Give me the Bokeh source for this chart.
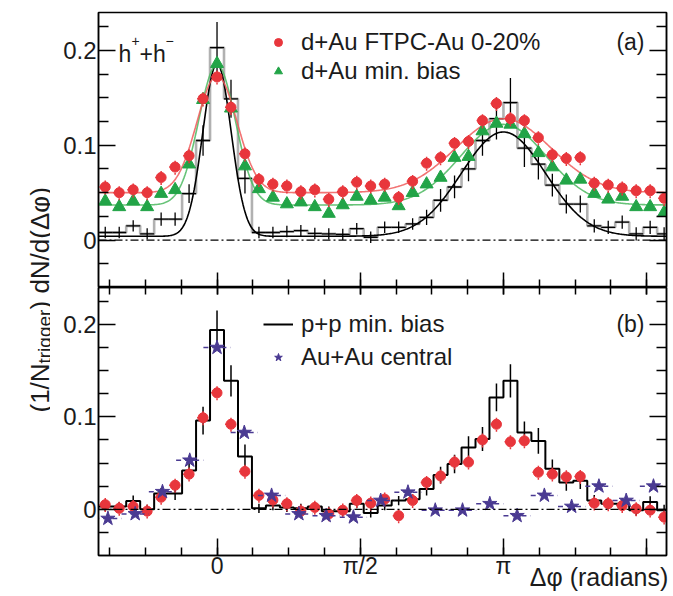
import math
import numpy as np
from bokeh.plotting import figure
from bokeh.layouts import row, column
from bokeh.models import (FixedTicker, LinearAxis, Range1d, Span, Label,
                          Legend, LegendItem)
from bokeh.embed import file_html
from bokeh.resources import INLINE

PI = math.pi

# ---------------------------------------------------------------- binning
# fine bins (d+Au, p+p) and coarse bins (Au+Au), centred on dphi = 0
fine_bin_index = list(range(-8, 33))
coarse_bin_index = list(range(-4, 17))
FINE_W = 2 * PI / 41
COARSE_W = 2 * PI / 21

# ---------------------------------------------------------------- panel (a)
dau_central_a = [0.056, 0.050, 0.053, 0.050, 0.066, 0.077, 0.089, 0.149, 0.172,
                 0.140, 0.091, 0.064, 0.059, 0.057, 0.051, 0.053, 0.043, 0.051, 0.061,
                 0.057, 0.059, 0.045, 0.062, 0.081, 0.087, 0.102, 0.104, 0.126, 0.144,
                 0.128, 0.126, 0.108, 0.090, 0.086, 0.087, 0.060, 0.058, 0.055, 0.052,
                 0.052, 0.044]
dau_minbias_a = [0.041, 0.035, 0.041, 0.035, 0.049, 0.053, 0.080, 0.148, 0.186,
                 0.139, 0.078, 0.054, 0.045, 0.038, 0.040, 0.035, 0.028, 0.037, 0.046,
                 0.042, 0.045, 0.036, 0.050, 0.059, 0.066, 0.087, 0.088, 0.115, 0.123,
                 0.122, 0.112, 0.092, 0.077, 0.063, 0.064, 0.049, 0.043, 0.046, 0.035,
                 0.035, 0.029]
pp_a = [0.008, 0.008, 0.015, 0.0065, 0.022, 0.022, 0.049, 0.105, 0.203,
        0.149, 0.065, 0.008, 0.008, 0.009, 0.010, 0.007, 0.0065, 0.006, 0.012,
        0.003, 0.0135, 0.0135, 0.017, 0.024, 0.042, 0.056, 0.075, 0.105, 0.128,
        0.145, 0.097, 0.080, 0.058, 0.038, 0.038, 0.015, 0.0135, 0.019, 0.0065,
        0.0135, 0.0065]
pp_a_err = [0.006, 0.006, 0.006, 0.006, 0.007, 0.007, 0.010, 0.016, 0.027,
            0.020, 0.016, 0.006, 0.006, 0.006, 0.006, 0.006, 0.006, 0.006, 0.006,
            0.006, 0.006, 0.006, 0.006, 0.008, 0.012, 0.012, 0.013, 0.016, 0.022,
            0.026, 0.020, 0.016, 0.012, 0.010, 0.009, 0.007, 0.007, 0.007, 0.007,
            0.007, 0.007]
DAU_YERR = 0.008

# ---------------------------------------------------------------- panel (b)
pp_b = [0.003, 0.003, 0.009, 0.000, 0.017, 0.017, 0.042, 0.096, 0.194,
        0.139, 0.057, 0.001, 0.004, 0.002, 0.001, 0.003, -0.002, -0.002, 0.006,
        -0.004, 0.004, 0.0095, 0.011, 0.022, 0.037, 0.049, 0.067, 0.076, 0.121,
        0.139, 0.083, 0.074, 0.044, 0.029, 0.031, 0.0095, 0.006, 0.006, -0.001,
        0.008, -0.001]
pp_b_err = [0.005, 0.005, 0.006, 0.005, 0.006, 0.007, 0.009, 0.015, 0.021,
            0.017, 0.013, 0.005, 0.005, 0.005, 0.005, 0.005, 0.005, 0.005, 0.005,
            0.005, 0.005, 0.005, 0.005, 0.007, 0.009, 0.010, 0.012, 0.013, 0.015,
            0.018, 0.012, 0.014, 0.010, 0.009, 0.009, 0.006, 0.006, 0.006, 0.006,
            0.006, 0.006]
dau_central_b = [0.005, 0.001, 0.003, -0.002, 0.013, 0.026, 0.038, 0.099, 0.126,
                 0.092, 0.041, 0.015, 0.010, 0.006, -0.002, 0.002, -0.005, -0.001, 0.0095,
                 0.0066, 0.011, -0.007, 0.0095, 0.029, 0.036, 0.051, 0.051, 0.075, 0.092,
                 0.073, 0.074, 0.040, 0.038, 0.035, 0.0355, 0.0066, 0.006, 0.004, 0.0005,
                 -0.001, -0.0085]
auau_central_b = [-0.010, -0.005, 0.019, 0.053, 0.175, 0.083, 0.015, -0.005, -0.007,
                  -0.0085, 0.0095, 0.0185, -0.001, -0.001, 0.006, -0.007, 0.015, 0.003,
                  0.025, 0.0095, 0.025]

# Gaussian fits: pedestal, near amplitude, near sigma, away amplitude, away sigma
fit_dau_central = [0.050, 0.123, 0.22, 0.078, 0.52]
fit_dau_minbias = [0.037, 0.148, 0.20, 0.085, 0.47]
fit_pp = [0.004, 0.182, 0.155, 0.110, 0.46]

x_ticks = [0, PI / 2, PI, 3 * PI / 2]
x_tick_labels = ["0", "\u03c0/2", "\u03c0", ""]
y_ticks = [0.0, 0.1, 0.2]
y_tick_labels = ["0", "0.1", "0.2"]
x_title = "\u0394\u03c6 (radians)"
X_TITLE_POS = 4.19   # centre of the axis title, in radians

# ---------------------------------------------------------------- helpers
FONT = "Liberation Sans"
INK = "#1b1b1b"
RED = "#e8363c"
RED_LINE = "#f05a5a"
GREEN = "#22a447"
GREEN_LINE = "#4cb860"
PURPLE = "#4a3a92"

fine_x = [k * FINE_W for k in fine_bin_index]
coarse_x = [k * COARSE_W for k in coarse_bin_index]


def fit_curve(params, x):
    ped, a1, s1, a2, s2 = params
    y = np.full_like(x, ped)
    for shift in (-2 * PI, 0.0, 2 * PI):
        y += a1 * np.exp(-(x - shift) ** 2 / (2 * s1 ** 2))
        y += a2 * np.exp(-(x - PI - shift) ** 2 / (2 * s2 ** 2))
    return y


def step_outline(centers, values, width):
    xs, ys = [], []
    for c, v in zip(centers, values):
        xs += [c - width / 2, c + width / 2]
        ys += [v, v]
    return xs, ys


def hide_labels(ax):
    ax.major_label_overrides = {t: "" for t in ax.ticker.ticks}
    ax.major_label_text_color = None
    ax.major_label_text_font_size = "1px"
    ax.major_label_standoff = 0


def style_axis(ax, major_in, minor_in, overrides=None, size="24px", standoff=0):
    ax.major_tick_in = major_in
    ax.major_tick_out = 0
    ax.minor_tick_in = minor_in
    ax.minor_tick_out = 0
    ax.axis_line_color = "black"
    ax.axis_line_width = 1.5
    ax.major_tick_line_color = "black"
    ax.minor_tick_line_color = "black"
    ax.major_tick_line_width = 1.5
    ax.minor_tick_line_width = 1.5
    ax.major_label_standoff = standoff
    if overrides is not None:
        ax.major_label_text_font = FONT
        ax.major_label_text_font_size = size
        ax.major_label_text_color = INK
        ax.major_label_overrides = overrides
    else:
        hide_labels(ax)


x_range = Range1d(-1.30, 4.93)
x_ticker = FixedTicker(ticks=x_ticks, minor_ticks=[k * PI / 8 for k in range(-3, 13)])
y_ticker = FixedTicker(ticks=y_ticks,
                       minor_ticks=[-0.025, 0.025, 0.05, 0.075, 0.125, 0.15, 0.175, 0.225])
x_over = {t: s for t, s in zip(x_ticks, x_tick_labels)}
y_over = {t: s for t, s in zip(y_ticks, y_tick_labels)}
curve_x = np.linspace(-1.30, 4.93, 500)


def make_panel(height, border_top, border_bottom):
    p = figure(width=623, height=height, x_range=x_range, y_range=Range1d(-0.05, 0.24),
               output_backend="svg", toolbar_location=None,
               min_border_left=48, min_border_right=7,
               min_border_top=border_top, min_border_bottom=border_bottom)
    p.xgrid.visible = False
    p.ygrid.visible = False
    p.outline_line_color = "black"
    p.outline_line_width = 1.5
    p.background_fill_color = "white"
    p.border_fill_color = "white"
    p.xaxis.ticker = x_ticker
    p.yaxis.ticker = y_ticker
    p.add_layout(Span(location=0, dimension="width", line_color="black",
                      line_width=1.2, line_dash="8 3 2 3"))
    return p


def legend_box(items, loc, spacing):
    return Legend(items=items, location=loc, glyph_width=30, glyph_height=20,
                  label_height=20, spacing=spacing, padding=0, margin=0,
                  label_standoff=8, border_line_color=None, background_fill_alpha=0,
                  label_text_font=FONT, label_text_font_size="24px",
                  label_text_color=INK)


# ================================================================ panel (a)
pa = make_panel(287, 12, 0)
style_axis(pa.xaxis[0], 15, 8)
style_axis(pa.yaxis[0], 17, 10, y_over, "24px", 2)
ra = LinearAxis(ticker=y_ticker)
style_axis(ra, 17, 10)
pa.add_layout(ra, "right")

# p+p reference: grey histogram with black error crosses
hx, hy = step_outline(fine_x, pp_a, FINE_W)
pa.line(hx, hy, line_color="#a8a8a8", line_width=2.6, line_alpha=0.9)
pa.segment(x0=[x - FINE_W / 2 for x in fine_x], x1=[x + FINE_W / 2 for x in fine_x],
           y0=pp_a, y1=pp_a, line_color="black", line_width=1.3)
pa.segment(x0=fine_x, x1=fine_x, y0=[v - e for v, e in zip(pp_a, pp_a_err)],
           y1=[v + e for v, e in zip(pp_a, pp_a_err)], line_color="black", line_width=1.3)

pa.line(curve_x, fit_curve(fit_pp, curve_x), line_color="black", line_width=1.6)
pa.line(curve_x, fit_curve(fit_dau_minbias, curve_x), line_color=GREEN_LINE,
        line_width=1.6, line_alpha=0.85)
pa.line(curve_x, fit_curve(fit_dau_central, curve_x), line_color=RED_LINE,
        line_width=1.6, line_alpha=0.85)

# d+Au minimum bias
r_green = pa.scatter(fine_x, dau_minbias_a, marker="triangle", size=13,
                     fill_color=GREEN, line_color=GREEN)

# d+Au central with dotted error crosses
pa.segment(x0=[x - 0.065 for x in fine_x], x1=[x + 0.065 for x in fine_x],
           y0=dau_central_a, y1=dau_central_a, line_color=RED, line_width=1.5,
           line_dash="2 2")
pa.segment(x0=fine_x, x1=fine_x, y0=[v - DAU_YERR for v in dau_central_a],
           y1=[v + DAU_YERR for v in dau_central_a], line_color=RED, line_width=1.5,
           line_dash="2 2")
r_red = pa.scatter(fine_x, dau_central_a, marker="circle", size=10,
                   fill_color=RED, line_color=RED)

pa.add_layout(legend_box([LegendItem(label="d+Au FTPC-Au 0-20%", renderers=[r_red]),
                          LegendItem(label="d+Au min. bias", renderers=[r_green])],
                         (165, 202), 1))

pa.add_layout(Label(x=546, y=246, x_units="screen", y_units="screen", text="(a)",
                    text_font=FONT, text_font_size="23px", text_color=INK,
                    text_align="right", text_baseline="middle"))
# h+ + h- tag
for txt, xx, yy, fs in [("h", 20, 234, "23px"), ("+", 33, 247, "14px"),
                        ("+h", 41, 234, "23px"), ("\u2212", 67, 247, "14px")]:
    pa.add_layout(Label(x=xx, y=yy, x_units="screen", y_units="screen", text=txt,
                        text_font=FONT, text_font_size=fs, text_color=INK,
                        text_align="left", text_baseline="alphabetic"))

# ================================================================ panel (b)
pb = make_panel(309, 0, 41)
xa = pb.xaxis[0]
style_axis(xa, 17, 8, x_over, "23px", -3)
style_axis(pb.yaxis[0], 17, 10, y_over, "24px", 2)
rb = LinearAxis(ticker=y_ticker)
style_axis(rb, 17, 10)
pb.add_layout(rb, "right")
tb = LinearAxis(ticker=x_ticker)
style_axis(tb, 7, 7)
pb.add_layout(tb, "above")

# axis title for dphi, placed at the right end beside the tick labels
xl = LinearAxis(ticker=FixedTicker(ticks=[X_TITLE_POS]))
xl.axis_line_color = None
xl.major_tick_line_color = None
xl.minor_tick_line_color = None
xl.major_tick_out = 0
xl.major_tick_in = 0
xl.major_label_overrides = {X_TITLE_POS: x_title}
xl.major_label_text_font = FONT
xl.major_label_text_font_size = "25px"
xl.major_label_text_color = INK
xl.major_label_standoff = -19
pb.add_layout(xl, "below")

# p+p histogram with error bars
bx, by = step_outline(fine_x, pp_b, FINE_W)
r_pp = pb.line(bx, by, line_color="black", line_width=2)
pb.segment(x0=fine_x, x1=fine_x, y0=[v - e for v, e in zip(pp_b, pp_b_err)],
           y1=[v + e for v, e in zip(pp_b, pp_b_err)], line_color="black", line_width=1.5)

# d+Au central
pb.segment(x0=[x - 0.065 for x in fine_x], x1=[x + 0.065 for x in fine_x],
           y0=dau_central_b, y1=dau_central_b, line_color=RED, line_width=1.5,
           line_dash="2 2")
pb.segment(x0=fine_x, x1=fine_x, y0=[v - DAU_YERR for v in dau_central_b],
           y1=[v + DAU_YERR for v in dau_central_b], line_color=RED, line_width=1.5,
           line_dash="2 2")
pb.scatter(fine_x, dau_central_b, marker="circle", size=10, fill_color=RED, line_color=RED)

# Au+Au central
pb.segment(x0=[x - COARSE_W / 2 for x in coarse_x], x1=[x + COARSE_W / 2 for x in coarse_x],
           y0=auau_central_b, y1=auau_central_b, line_color=PURPLE, line_width=1.5,
           line_dash="5 4")
r_star = pb.scatter(coarse_x, auau_central_b, marker="star", size=15,
                    fill_color=PURPLE, line_color=PURPLE)

pb.add_layout(legend_box([LegendItem(label="p+p min. bias", renderers=[r_pp]),
                          LegendItem(label="Au+Au central", renderers=[r_star])],
                         (165, 184), 5))

pb.add_layout(Label(x=546, y=232, x_units="screen", y_units="screen", text="(b)",
                    text_font=FONT, text_font_size="23px", text_color=INK,
                    text_align="right", text_baseline="middle"))

# ================================================================ shared y label
ylab = figure(width=50, height=596, x_range=Range1d(0, 1), y_range=Range1d(0, 1),
              output_backend="svg", toolbar_location=None,
              x_axis_location=None, y_axis_location=None,
              min_border_left=0, min_border_right=0, min_border_top=0, min_border_bottom=0)
ylab.xgrid.visible = False
ylab.ygrid.visible = False
ylab.outline_line_color = None
for txt, xx, yy, fs in [("(1/N", 39, 184, "26px"), ("trigger", 44, 233, "19px"),
                        (") dN/d(\u0394\u03c6)", 39, 287, "26px")]:
    ylab.add_layout(Label(x=xx, y=yy, x_units="screen", y_units="screen", text=txt,
                          angle=PI / 2, text_font=FONT, text_font_size=fs,
                          text_color=INK, text_align="left", text_baseline="alphabetic"))

layout = row(ylab, column(pa, pb))
open("out.html", "w").write(file_html(layout, INLINE, title="dphi correlations"))
